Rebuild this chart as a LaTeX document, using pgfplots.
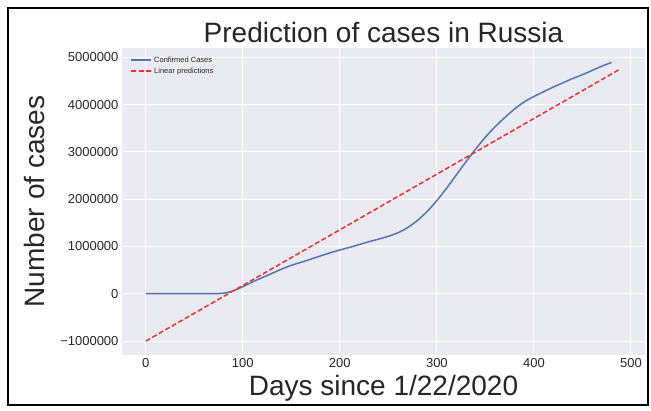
\documentclass[border=0pt]{standalone}
\usepackage{pgfplots}
\pgfplotsset{compat=1.18}
\usepackage{fontspec}
\setmainfont{Liberation Sans}
\definecolor{sbbg}{HTML}{EAEAF2}
\definecolor{sbblue}{HTML}{5575B0}
\definecolor{txt}{HTML}{262626}
\definecolor{predred}{HTML}{F03030}
\begin{document}
\begin{tikzpicture}[x=1pt,y=1pt]
\begin{axis}[
  name=ax,
  at={(0,0)}, anchor=south west,
  scale only axis, width=523pt, height=307pt,
  xmin=-24.5, xmax=514.5, ymin=-1295000, ymax=5195000,
  scaled y ticks=false, scaled x ticks=false,
  axis background/.style={fill=sbbg},
  axis line style={draw=none},
  major tick length=0pt,
  grid=major, major grid style={white, line width=1pt},
  xtick={0,100,200,300,400,500},
  ytick={-1000000,0,1000000,2000000,3000000,4000000,5000000},
  yticklabels={−1000000,0,1000000,2000000,3000000,4000000,5000000},
  xticklabels={0,100,200,300,400,500},
  tick label style={font=\fontsize{13}{15}\selectfont, text=txt},
  title={Prediction of cases in Russia},
  title style={font=\fontsize{28}{32}\selectfont, text=txt, yshift=-4pt},
  xlabel={Days since 1/22/2020},
  ylabel={Number of cases},
  label style={font=\fontsize{28}{32}\selectfont, text=txt},
  xlabel style={yshift=-1pt},
  ylabel style={yshift=9pt},
  legend style={at={(0.01,0.985)}, anchor=north west, draw=none, fill=none,
    font=\fontsize{7.5}{9}\selectfont, row sep=0pt},
  legend cell align=left,
  clip=false,
]
\addplot[sbblue, line width=1.5pt, smooth,
  legend image code/.code={\draw[sbblue, line width=1.8pt] (0pt,0pt) -- (20pt,0pt);}] coordinates {
(0,0) (20,0) (40,0) (60,500) (70,2000) (80,12000) (90,60000) (100,150000)
(110,250000) (120,340000) (130,430000) (140,520000) (150,600000) (160,665000)
(170,730000) (180,800000) (190,865000) (200,925000) (210,980000) (220,1040000)
(230,1100000) (240,1155000) (250,1215000) (260,1290000) (270,1400000)
(280,1550000) (290,1740000) (300,1970000) (310,2230000) (320,2510000)
(330,2790000) (340,3060000) (350,3310000) (360,3530000) (370,3725000)
(380,3905000) (390,4055000) (400,4170000) (410,4270000) (420,4370000)
(430,4460000) (440,4550000) (450,4630000) (460,4720000) (470,4810000)
(480,4890000)
};
\addlegendentry{\textcolor{txt}{Confirmed Cases}}
\addplot[predred, line width=1.5pt, dash pattern=on 5pt off 2.5pt,
  legend image code/.code={\draw[predred, line width=1.8pt, dash pattern=on 5pt off 2.5pt] (0pt,0pt) -- (20pt,0pt);}] coordinates {(0,-1000000) (488,4740000)};
\addlegendentry{\textcolor{txt}{Linear predictions}}
\end{axis}
\draw[line width=1.6pt] (-114,-50) rectangle (526,347);
\useasboundingbox (-122,-55) rectangle (529,355);
\end{tikzpicture}
\end{document}
